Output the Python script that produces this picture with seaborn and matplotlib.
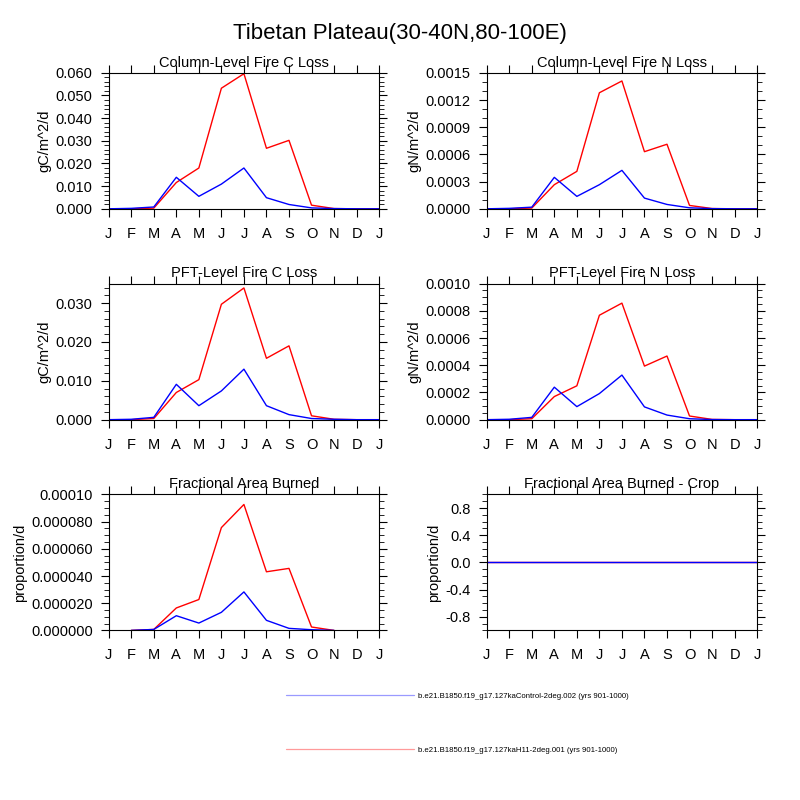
import numpy as np
import pandas as pd
import matplotlib
matplotlib.use("Agg")
import matplotlib.pyplot as plt
import seaborn as sns
from matplotlib.ticker import FixedLocator, MultipleLocator, FixedFormatter
from matplotlib.lines import Line2D

sns.set_style("ticks")
plt.rcParams['font.family'] = ['Liberation Sans', 'DejaVu Sans']
plt.rcParams['text.color'] = 'black'
plt.rcParams['axes.labelcolor'] = 'black'
plt.rcParams['xtick.color'] = 'black'
plt.rcParams['ytick.color'] = 'black'

# ---------------- data ----------------
months = ["J", "F", "M", "A", "M", "J", "J", "A", "S", "O", "N", "D", "J"]
nan = np.nan

case_ctrl = "b.e21.B1850.f19_g17.127kaControl-2deg.002 (yrs 901-1000)"
case_h11 = "b.e21.B1850.f19_g17.127kaH11-2deg.001 (yrs 901-1000)"

colC_ctrl = [0.0, 0.0002, 0.0008, 0.0139, 0.0055, 0.0109, 0.0180, 0.0049, 0.0019, 0.0004, 0.0001, 0.0, 0.0]
colC_h11 = [0.0, 0.0, 0.0003, 0.0116, 0.0180, 0.0532, 0.0596, 0.0267, 0.0302, 0.0016, 0.0001, 0.0, 0.0]

colN_ctrl = [0.0, 0.000005, 0.000018, 0.000347, 0.000137, 0.000266, 0.000424, 0.000118, 0.000048, 0.000011, 0.000002, 0.0, 0.0]
colN_h11 = [0.0, 0.0, 0.000008, 0.000266, 0.000413, 0.00128, 0.00141, 0.00063, 0.000712, 0.000037, 0.000003, 0.0, 0.0]

pftC_ctrl = [0.0, 0.0001, 0.0006, 0.0091, 0.0036, 0.0074, 0.0130, 0.0036, 0.0013, 0.0003, 0.0001, 0.0, 0.0]
pftC_h11 = [0.0, 0.0, 0.0003, 0.0070, 0.0103, 0.0297, 0.0339, 0.0158, 0.0190, 0.0010, 0.0001, 0.0, 0.0]

pftN_ctrl = [0.0, 0.000003, 0.000017, 0.000239, 0.000096, 0.000192, 0.000328, 0.000094, 0.000034, 0.000007, 0.000001, 0.0, 0.0]
pftN_h11 = [0.0, 0.0, 0.000007, 0.000170, 0.000249, 0.000768, 0.000857, 0.000394, 0.000468, 0.000027, 0.000002, 0.0, 0.0]

farea_ctrl = [nan, 0.0, 0.7e-6, 10.8e-6, 5.4e-6, 13.3e-6, 28.3e-6, 7.4e-6, 1.5e-6, 0.5e-6, 0.0, nan, nan]
farea_h11 = [nan, 0.0, 0.7e-6, 16.5e-6, 22.7e-6, 75.6e-6, 92.6e-6, 43.1e-6, 45.6e-6, 2.5e-6, 0.0, nan, nan]

crop_ctrl = [0.0] * 13
crop_h11 = [0.0] * 13

titles = ["Column-Level Fire C Loss", "Column-Level Fire N Loss",
          "PFT-Level Fire C Loss", "PFT-Level Fire N Loss",
          "Fractional Area Burned", "Fractional Area Burned - Crop"]
ylabels = ["gC/m^2/d", "gN/m^2/d", "gC/m^2/d", "gN/m^2/d", "proportion/d", "proportion/d"]
ylims = [(0, 0.060), (0, 0.0015), (0, 0.035), (0, 0.0010), (0, 0.00010), (-1.0, 1.0)]
yticks = [
    [0.0, 0.01, 0.02, 0.03, 0.04, 0.05, 0.06],
    [0.0, 0.0003, 0.0006, 0.0009, 0.0012, 0.0015],
    [0.0, 0.01, 0.02, 0.03],
    [0.0, 0.0002, 0.0004, 0.0006, 0.0008, 0.0010],
    [0.0, 0.00002, 0.00004, 0.00006, 0.00008, 0.00010],
    [-0.8, -0.4, 0.0, 0.4, 0.8],
]
yticklabels = [
    ["0.000", "0.010", "0.020", "0.030", "0.040", "0.050", "0.060"],
    ["0.0000", "0.0003", "0.0006", "0.0009", "0.0012", "0.0015"],
    ["0.000", "0.010", "0.020", "0.030"],
    ["0.0000", "0.0002", "0.0004", "0.0006", "0.0008", "0.0010"],
    ["0.000000", "0.000020", "0.000040", "0.000060", "0.000080", "0.00010"],
    ["-0.8", "-0.4", "0.0", "0.4", "0.8"],
]
minor_steps = [0.002, 0.0001, 0.002, 0.00005, 0.000005, 0.1]

series = [(colC_ctrl, colC_h11), (colN_ctrl, colN_h11), (pftC_ctrl, pftC_h11),
          (pftN_ctrl, pftN_h11), (farea_ctrl, farea_h11), (crop_ctrl, crop_h11)]

palette = {case_ctrl: "#0000ff", case_h11: "#ff0000"}
legend_colors = {case_ctrl: "#9a9aff", case_h11: "#ff9a9a"}

# ---------------- layout ----------------
fig = plt.figure(figsize=(8, 8), dpi=100)
W, H = 0.338, 0.170
lefts = [0.1359, 0.6084]
bottoms = [0.739, 0.4754, 0.212]

for i in range(6):
    r, c = divmod(i, 2)
    ax = fig.add_axes([lefts[c], bottoms[r], W, H])
    ctrl, h11 = series[i]
    n = len(months)
    df = pd.DataFrame({
        "month": list(range(n)) * 2,
        "value": list(h11) + list(ctrl),
        "case": [case_h11] * n + [case_ctrl] * n,
    })
    sns.lineplot(data=df, x="month", y="value", hue="case",
                 hue_order=[case_h11, case_ctrl], palette=palette,
                 linewidth=1.0, legend=False, ax=ax, estimator=None)
    ax.set_xlim(0, n - 1)
    ax.set_ylim(*ylims[i])
    ax.set_xticks(range(n))
    ax.set_xticklabels(months)
    ax.yaxis.set_major_locator(FixedLocator(yticks[i]))
    ax.yaxis.set_major_formatter(FixedFormatter(yticklabels[i]))
    ax.yaxis.set_minor_locator(MultipleLocator(minor_steps[i]))
    ax.set_xlabel("")
    ax.set_ylabel(ylabels[i], fontsize=10.5, labelpad=3)
    ax.set_title(titles[i], fontsize=10.5, pad=4.5)
    for s in ax.spines.values():
        s.set_visible(True)
        s.set_linewidth(0.8)
        s.set_color("black")
    ax.tick_params(axis="both", which="both", direction="out", top=True, right=True,
                   labeltop=False, labelright=False, colors="black", width=0.8)
    ax.tick_params(axis="both", which="major", length=5.5, labelsize=10.5)
    ax.tick_params(axis="y", which="minor", length=3.5, width=0.6)
    ax.tick_params(axis="x", which="major", pad=7.5)
    ax.tick_params(axis="y", which="major", pad=6)

fig.suptitle("Tibetan Plateau(30-40N,80-100E)", fontsize=16, y=0.9575, va="center")

handles = [Line2D([0, 1], [0, 0], color=legend_colors[case_ctrl], linewidth=0.9),
           Line2D([0, 1], [0, 0], color=legend_colors[case_h11], linewidth=0.9)]
leg = fig.legend(handles=handles, labels=[case_ctrl, case_h11],
                 loc="center left", bbox_to_anchor=(0.3575, 0.096), frameon=False,
                 fontsize=5.55, handlelength=16.6, handletextpad=0.55, labelspacing=6.1,
                 borderpad=0, borderaxespad=0)
for h, case in zip(leg.legend_handles, [case_ctrl, case_h11]):
    h.set_color(legend_colors[case])

fig.savefig("out.png", dpi=100, facecolor="white")
